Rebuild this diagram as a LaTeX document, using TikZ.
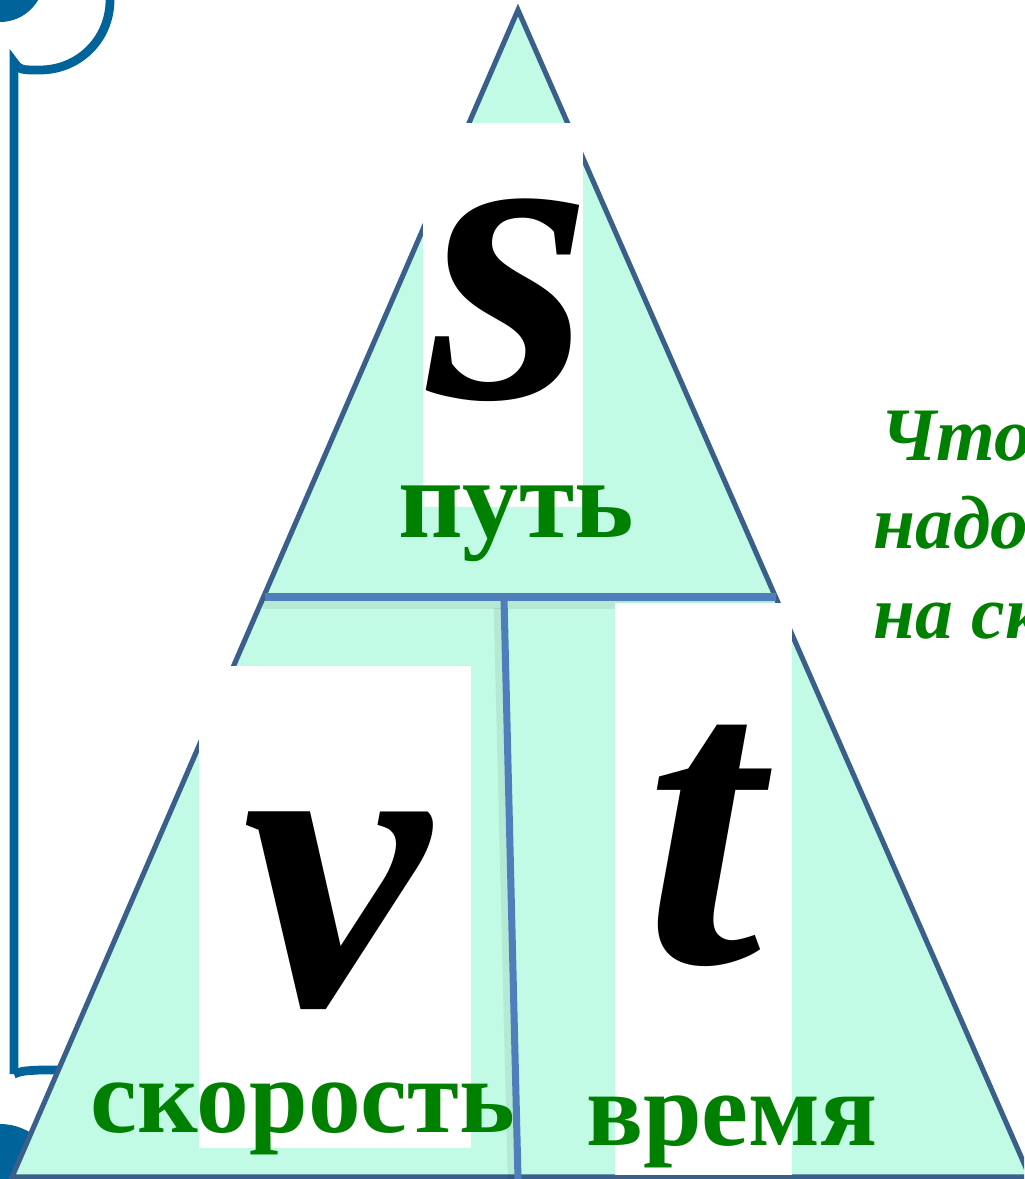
\documentclass[tikz,border=0pt]{standalone}
\usepackage{fontspec}
\setmainfont{Liberation Serif}
\usetikzlibrary{positioning}
\definecolor{mint}{HTML}{C2FBE5}
\definecolor{edgeblue}{HTML}{3A5F8B}
\definecolor{lineblue}{HTML}{4F7EBD}
\definecolor{scrollblue}{HTML}{00639A}
\definecolor{wordgreen}{HTML}{008000}
\tikzset{
  letterbox/.style={fill=white, draw=none},
  bigletter/.style={font=\fontsize{240}{240}\selectfont\bfseries\itshape, anchor=base, inner sep=0pt},
  word/.style={font=\fontsize{60}{60}\selectfont\bfseries, text=wordgreen, anchor=base, inner sep=0pt},
  hint/.style={font=\fontsize{43}{43}\selectfont\bfseries\itshape, text=wordgreen, anchor=base west, inner sep=0pt},
  splitline/.style={lineblue, line width=4pt},
  splitshadow/.style={black, opacity=0.07, line width=6pt},
  scrollline/.style={scrollblue, line width=5pt},
}

\begin{document}
\begin{tikzpicture}[x=0.02cm, y=-0.02cm]
  \useasboundingbox (0,0) rectangle (1024,1179);
  \clip (0,0) rectangle (1024,1179);

  % scroll on the left
  \fill[scrollblue] (0,-22) circle (44);
  \fill[scrollblue] (0,1182) circle (58);
  \draw[scrollline] (14,1074) -- (14,62) .. controls (20,70) .. (40,70)
    .. controls (79,70) and (110,39) .. (110,0);
  \draw[scrollline] (14,1074) .. controls (22,1071) .. (40,1070) -- (80,1070);

  % triangle
  \coordinate (apex) at (518,10);
  \coordinate (bl) at (12,1177);
  \coordinate (br) at (1030,1177);
  \coordinate (ml) at (265,597);
  \coordinate (mr) at (776,597);
  \coordinate (mt) at (504,599);
  \coordinate (mb) at (518,1179);
  \filldraw[fill=mint, draw=edgeblue, line width=2.9pt, line join=miter] (apex) -- (bl) -- (br) -- cycle;
  \draw[splitshadow] ([shift={(-2,7)}]ml) -- ([shift={(-2,7)}]mr);
  \draw[splitshadow] ([shift={(-5,9)}]mt) -- ([shift={(-5,0)}]mb);
  \draw[splitline] (ml) -- (mr);
  \draw[splitline] (mt) -- (mb);

  % white boxes behind the letters
  \fill[letterbox] (423,123) rectangle (583,507);
  \fill[letterbox] (199,666) rectangle (471,1148);
  \fill[letterbox] (615,603) rectangle (792,1175);

  \node[bigletter] (s) at (511,397) {s};
  \node[bigletter] (v) at (336,1005) {v};
  \node[bigletter] (t) at (703,962) {t};

  \node[word, font=\fontsize{64}{64}\selectfont\bfseries] (path) at (516,537) {путь};
  \node[word] (speed) at (303,1132) {скорость};
  \node[word] (time) at (732,1145) {время};

  % question on the right
  \node[hint] (q1) at (880,460) {Чтобы найти время,};
  \node[hint] (q2) at (873,548) {надо путь разделить};
  \node[hint] (q3) at (873,638) {на скорость};
\end{tikzpicture}
\end{document}
